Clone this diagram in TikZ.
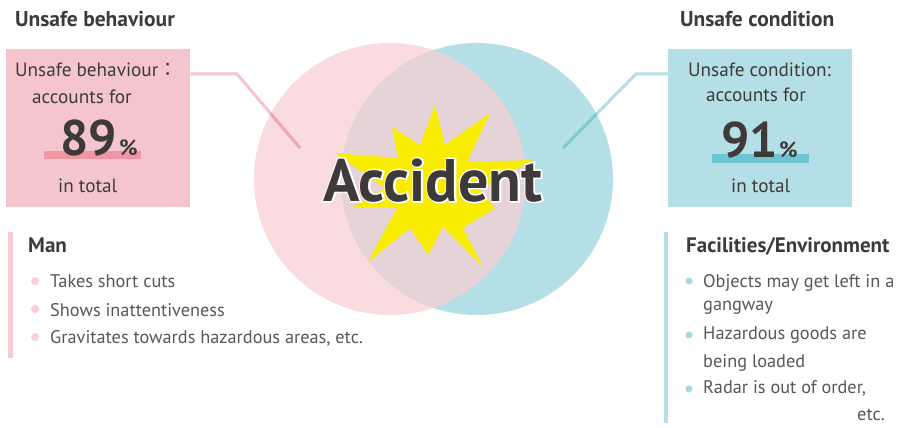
\documentclass[tikz,border=0pt]{standalone}
\usepackage{fontspec}
\setmainfont{PT Sans}
\newfontfamily\cjk{Noto Sans CJK JP}
\newfontface\acchalo{PT Sans Bold}[FakeBold=5]
\definecolor{pinkcirc}{HTML}{F9DBE0}
\definecolor{bluecirc}{HTML}{B4DFE6}
\definecolor{overlapc}{HTML}{E6D3D8}
\definecolor{pinkbox}{HTML}{F5C5CD}
\definecolor{bluebox}{HTML}{B4DFE6}
\definecolor{pinkbar}{HTML}{EF95A4}
\definecolor{bluebar}{HTML}{6DC5D1}
\definecolor{pinkline}{HTML}{F5C5CD}
\definecolor{pinklinedk}{HTML}{EFA5B2}
\definecolor{blueline}{HTML}{B4DFE6}
\definecolor{bluelinedk}{HTML}{7CCAD6}
\definecolor{darktxt}{HTML}{3E3A39}
\definecolor{bodygray}{HTML}{595757}
\definecolor{pinkdot}{HTML}{F8D0D6}
\definecolor{bluedot}{HTML}{A6DAE2}
\definecolor{pinkside}{HTML}{F8CBD2}
\definecolor{starc}{HTML}{F8EC00}
\begin{document}
\begin{tikzpicture}[x=1pt,y=-1pt,
  title/.style={font=\bfseries\fontsize{21.5}{24}\selectfont, text=darktxt, inner sep=0, anchor=base west},
  boxtxt/.style={font=\fontsize{19.2}{22}\selectfont, text=darktxt, inner sep=0, anchor=base west},
  bignum/.style={font=\bfseries\fontsize{50}{55}\selectfont, text=darktxt, inner sep=0, anchor=base west},
  pct/.style={font=\bfseries\fontsize{22}{24}\selectfont, text=darktxt, inner sep=0, anchor=base west},
  item/.style={font=\fontsize{18.3}{21}\selectfont, text=bodygray, inner sep=0, anchor=base west},
  head/.style={font=\bfseries\fontsize{21}{24}\selectfont, text=darktxt, inner sep=0, anchor=base west},
  conn/.style={line width=3pt},
  accfont/.style={font=\bfseries\fontsize{60}{64}\selectfont, inner sep=0, anchor=base}
]
\useasboundingbox (0,0) rectangle (900,428);
\fill[white] (0,0) rectangle (900,428);

% circles
\fill[pinkcirc] (390,179) circle (136);
\fill[bluecirc] (477,179) circle (136);
\begin{scope}
  \clip (390,179) circle (136);
  \fill[overlapc] (477,179) circle (136);
\end{scope}

% boxes
\node[fill=pinkbox, minimum width=184, minimum height=158, inner sep=0, anchor=north west] (lbox) at (6,49) {};
\node[fill=bluebox, minimum width=184, minimum height=158, inner sep=0, anchor=north west] (rbox) at (668,49) {};

% connectors
\coordinate (lbend) at (237,74);
\coordinate (lend) at (300,148);
\coordinate (rbend) at (636,74);
\coordinate (rend) at (563,148);
\draw[conn, pinkline] (lbox.east |- lbend) -- (lbend) -- (lend);
\begin{scope}
  \clip (390,179) circle (136);
  \draw[conn, pinklinedk] (lbend) -- (lend);
\end{scope}
\draw[conn, blueline] (rbox.west |- rbend) -- (rbend) -- (rend);
\begin{scope}
  \clip (477,179) circle (136);
  \draw[conn, bluelinedk] (rbend) -- (rend);
\end{scope}

% titles
\node[title] (ltitle) at (15,27) {Unsafe behaviour};
\node[title] (rtitle) at (680,27) {Unsafe condition};

% left box content
\fill[pinkbar] (44,151) rectangle (141,159);
\node[boxtxt] (l1) at (15,77) {Unsafe behaviour{\cjk ：}};
\node[boxtxt] (l2) at (32,103) {accounts for};
\node[bignum] (l3) at (60,155) {89};
\node[pct] (l4) at (119,155) {\%};
\node[boxtxt] (l5) at (58,192) {in total};

% right box content
\fill[bluebar] (712,154) rectangle (809,163);
\node[boxtxt] (r1) at (688,77) {Unsafe condition:};
\node[boxtxt] (r2) at (706,102) {accounts for};
\node[bignum] (r3) at (721,157) {91};
\node[pct] (r4) at (779,157) {\%};
\node[boxtxt] (r5) at (731,192) {in total};

% star
\fill[starc] (435,105) -- (445,145) -- (490,113) -- (467,162) -- (533,160) -- (480,190)
  -- (495,208) -- (463,228) -- (483,267) -- (443,227) -- (428,255) -- (410,228)
  -- (368,262) -- (397,208) -- (353,207) -- (385,188) -- (335,153) -- (398,158)
  -- (392,127) -- (420,145) -- cycle;

% Accident text with white halo
\node[accfont, font=\acchalo\fontsize{60}{64}\selectfont, text=white] (acchalo) at (433,201) {Accident};
\node[accfont, text=darktxt] (acc) at (433,201) {Accident};

% left list
\fill[pinkside] (8,232) rectangle (13,358);
\node[head] (man) at (28,252) {Man};
\fill[pinkdot] (35,281) circle (4);
\fill[pinkdot] (35,309) circle (4);
\fill[pinkdot] (35,337) circle (4);
\node[item] (m1) at (50,287) {Takes short cuts};
\node[item] (m2) at (50,316) {Shows inattentiveness};
\node[item] (m3) at (50,343) {Gravitates towards hazardous areas, etc.};

% right list
\fill[bluebox] (664,232) rectangle (668,423);
\node[head] (fac) at (686,252) {Facilities/Environment};
\fill[bluedot] (689,281) circle (3.5);
\fill[bluedot] (689,335) circle (3.5);
\fill[bluedot] (689,389) circle (3.5);
\node[item] (f1) at (703,287) {Objects may get left in a};
\node[item] (f2) at (703,310) {gangway};
\node[item] (f3) at (703,339) {Hazardous goods are};
\node[item] (f4) at (703,367) {being loaded};
\node[item] (f5) at (703,393) {Radar is out of order,};
\node[item] (f6) at (857,420) {etc.};
\end{tikzpicture}
\end{document}
